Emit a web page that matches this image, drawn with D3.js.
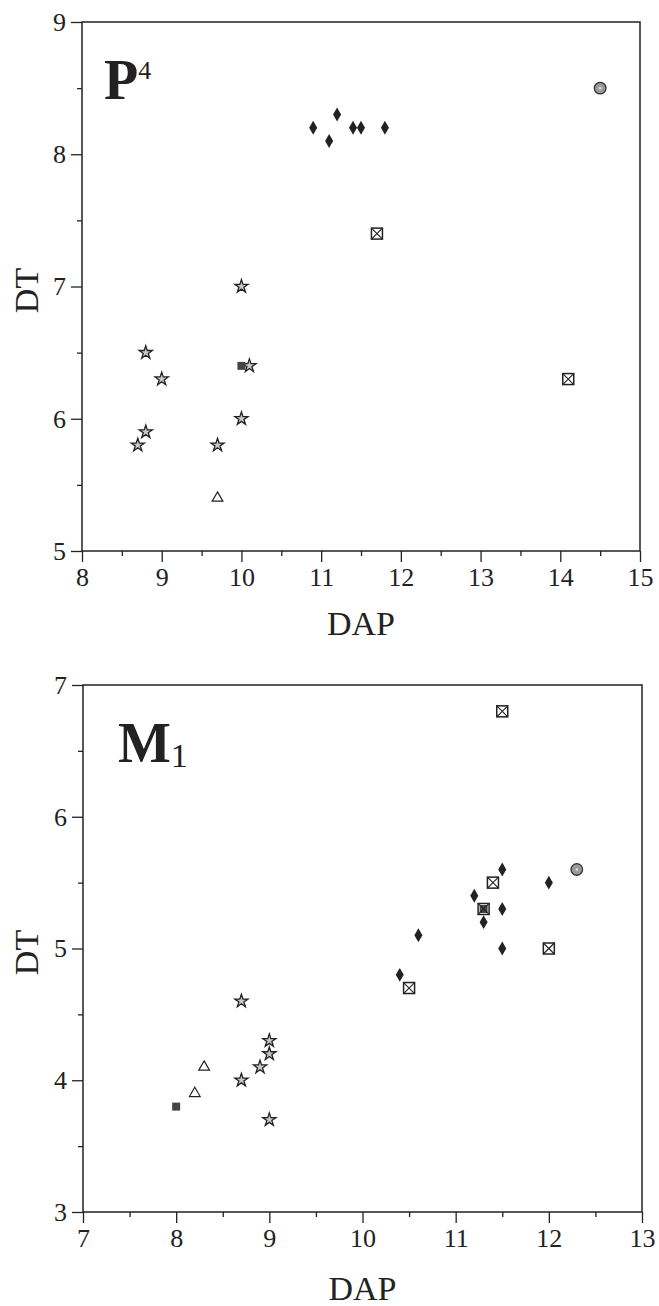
<!DOCTYPE html>
<html><head><meta charset="utf-8">
<script src="https://cdn.jsdelivr.net/npm/d3@7"></script>
<style>body{margin:0;background:#fff} svg text{font-family:"Liberation Serif","Times New Roman",Times,serif;}</style>
</head><body><svg id="c" width="659" height="1306"></svg>
<script>
// ---------- Panel P4 data ----------
const p4XTicks = [8, 9, 10, 11, 12, 13, 14, 15];
const p4YTicks = [5, 6, 7, 8, 9];
const p4Diamond = [[10.9, 8.2], [11.1, 8.1], [11.2, 8.3], [11.4, 8.2], [11.5, 8.2], [11.8, 8.2]];
const p4BoxX = [[11.7, 7.4], [14.1, 6.3]];
const p4Circle = [[14.5, 8.5]];
const p4Star = [[10.0, 7.0], [8.8, 6.5], [9.0, 6.3], [10.1, 6.4], [10.0, 6.0], [8.8, 5.9], [8.7, 5.8], [9.7, 5.8]];
const p4Square = [[10.0, 6.4]];
const p4Triangle = [[9.7, 5.4]];

// ---------- Panel M1 data ----------
const m1XTicks = [7, 8, 9, 10, 11, 12, 13];
const m1YTicks = [3, 4, 5, 6, 7];
const m1Diamond = [[11.5, 5.6], [12.0, 5.5], [11.2, 5.4], [11.5, 5.3], [11.3, 5.2], [10.6, 5.1], [11.5, 5.0], [10.4, 4.8]];
const m1BoxX = [[11.5, 6.8], [11.4, 5.5], [11.3, 5.3], [12.0, 5.0], [10.5, 4.7]];
const m1Circle = [[12.3, 5.6]];
const m1Star = [[8.7, 4.6], [9.0, 4.3], [9.0, 4.2], [8.9, 4.1], [8.7, 4.0], [9.0, 3.7]];
const m1Square = [[8.0, 3.8], [11.3, 5.3]];
const m1Triangle = [[8.3, 4.1], [8.2, 3.9]];

const svg = d3.select("#c");
const FONT = '"Liberation Serif","Times New Roman",Times,serif';

function panel(cfg) {
  const x = d3.scaleLinear().domain(cfg.xDomain).range([cfg.left, cfg.right]);
  const y = d3.scaleLinear().domain(cfg.yDomain).range([cfg.bottom, cfg.top]);
  const g = svg.append("g");

  const minorX = d3.range(cfg.xDomain[0] + 0.5, cfg.xDomain[1], 1);
  const minorY = d3.range(cfg.yDomain[0] + 0.5, cfg.yDomain[1], 1);

  g.append("g").attr("transform", `translate(0,${cfg.bottom})`)
    .call(d3.axisBottom(x).tickValues(minorX).tickSize(5).tickFormat(""))
    .call(a => a.select(".domain").remove());
  g.append("g").attr("transform", `translate(${cfg.left},0)`)
    .call(d3.axisLeft(y).tickValues(minorY).tickSize(5).tickFormat(""))
    .call(a => a.select(".domain").remove());
  const xa = g.append("g").attr("transform", `translate(0,${cfg.bottom})`)
    .call(d3.axisBottom(x).tickValues(cfg.xTicks).tickSize(11).tickPadding(6).tickFormat(d3.format("d")));
  xa.select(".domain").remove();
  const ya = g.append("g").attr("transform", `translate(${cfg.left},0)`)
    .call(d3.axisLeft(y).tickValues(cfg.yTicks).tickSize(11).tickPadding(5).tickFormat(d3.format("d")));
  ya.select(".domain").remove();
  g.selectAll("g").attr("font-family", null);
  g.selectAll(".tick line").attr("stroke", "#222").attr("stroke-width", 1.3);
  g.selectAll(".tick text").style("font-family", FONT).attr("font-size", 26).attr("fill", "#222");

  g.append("rect").attr("x", cfg.left).attr("y", cfg.top)
    .attr("width", cfg.right - cfg.left).attr("height", cfg.bottom - cfg.top)
    .attr("fill", "none").attr("stroke", "#222").attr("stroke-width", 1.5);

  g.append("text").attr("x", (cfg.left + cfg.right) / 2).attr("y", cfg.xTitleY)
    .attr("text-anchor", "middle").style("font-family", FONT).attr("font-size", 34).attr("fill", "#222").text("DAP");
  g.append("text").attr("transform", `translate(38,${(cfg.top + cfg.bottom) / 2 + 4}) rotate(-90)`)
    .attr("text-anchor", "middle").style("font-family", FONT).attr("font-size", 34).attr("fill", "#222").text("DT");

  const lab = g.append("text").attr("x", cfg.labelX).attr("y", cfg.labelY)
    .style("font-family", FONT).attr("fill", "#222");
  lab.append("tspan").attr("font-weight", "bold").attr("font-size", 56).text(cfg.label);
  lab.append("tspan").attr("font-size", cfg.subSize).attr("dy", cfg.subDy).text(cfg.sub);

  const tr = d => `translate(${x(d[0])},${y(d[1])})`;
  g.selectAll(".dia").data(cfg.diamond).join("path").attr("transform", tr)
    .attr("d", d3.symbol(d3.symbolDiamond, 56)()).attr("fill", "#222");
  g.selectAll(".star").data(cfg.star).join("path").attr("transform", tr)
    .attr("d", d3.symbol(d3.symbolStar, 54)()).attr("fill", "#c8c8c8").attr("stroke", "#222").attr("stroke-width", 1.3);
  g.selectAll(".tri").data(cfg.triangle).join("path").attr("transform", tr)
    .attr("d", d3.symbol(d3.symbolTriangle, 50)()).attr("fill", "#fff").attr("stroke", "#222").attr("stroke-width", 1.2);
  g.selectAll(".sq").data(cfg.square).join("rect").attr("transform", tr)
    .attr("x", -4).attr("y", -4).attr("width", 8).attr("height", 8).attr("fill", "#444");
  const bx = g.selectAll(".bx").data(cfg.boxX).join("g").attr("transform", tr);
  bx.append("rect").attr("x", -5.5).attr("y", -5.5).attr("width", 11).attr("height", 11)
    .attr("fill", "none").attr("stroke", "#222").attr("stroke-width", 1.5);
  bx.append("path").attr("d", "M-5.5,-5.5L5.5,5.5M5.5,-5.5L-5.5,5.5").attr("stroke", "#222").attr("stroke-width", 1.1);
  const ci = g.selectAll(".ci").data(cfg.circle).join("g").attr("transform", tr);
  ci.append("circle").attr("r", 5.8).attr("fill", "#9a9a9a").attr("stroke", "#333").attr("stroke-width", 1.3);
  ci.append("circle").attr("r", 1.3).attr("fill", "#ddd");
}

panel({
  left: 82, right: 640, top: 22, bottom: 551,
  xDomain: [8, 15], yDomain: [5, 9], xTicks: p4XTicks, yTicks: p4YTicks,
  xTitleY: 635, label: "P", sub: "4", subSize: 26, subDy: -20, labelX: 104, labelY: 99,
  diamond: p4Diamond, boxX: p4BoxX, circle: p4Circle, star: p4Star, square: p4Square, triangle: p4Triangle
});
panel({
  left: 83, right: 642, top: 685, bottom: 1212,
  xDomain: [7, 13], yDomain: [3, 7], xTicks: m1XTicks, yTicks: m1YTicks,
  xTitleY: 1300, label: "M", sub: "1", subSize: 34, subDy: 5, labelX: 118, labelY: 762,
  diamond: m1Diamond, boxX: m1BoxX, circle: m1Circle, star: m1Star, square: m1Square, triangle: m1Triangle
});
</script></body></html>
